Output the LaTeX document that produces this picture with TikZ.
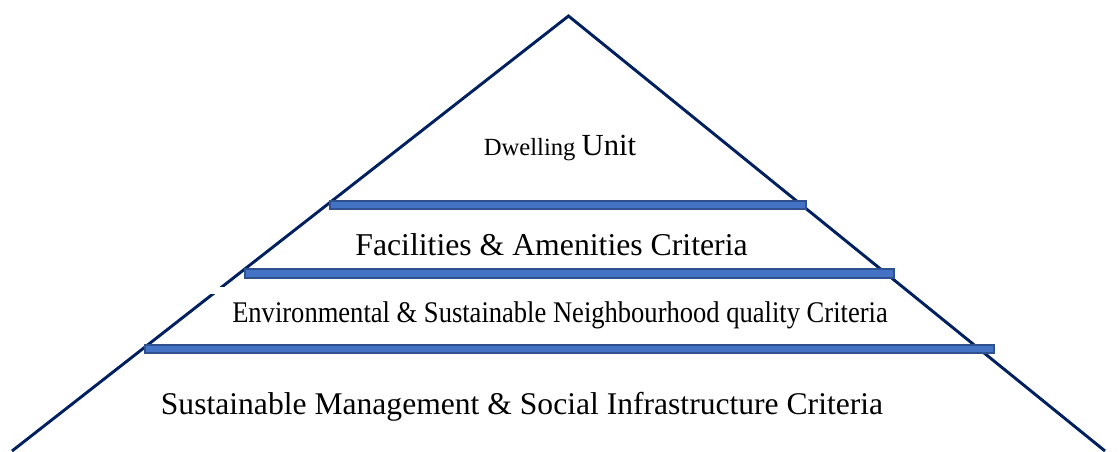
\documentclass[tikz,border=0pt]{standalone}
\usepackage{fontspec}
\setmainfont{Liberation Serif}
\usepackage{tikz}

\definecolor{navy}{RGB}{0,32,96}
\definecolor{barfill}{RGB}{68,114,196}
\definecolor{baredge}{RGB}{47,82,143}

\begin{document}
\begin{tikzpicture}[x=0.75pt,y=-0.75pt,
  side/.style={line width=2.2pt,navy},
  bar/.style={fill=barfill,draw=baredge,line width=0.8pt},
  level/.style={anchor=base,inner sep=0pt}]
\useasboundingbox (0,0) rectangle (1118,451);
\coordinate (top) at (568.5,16);
\coordinate (left) at (12,451);
\coordinate (right) at (1105,451);
\draw[side] (left) -- (top) -- (right);
\fill[white] (205,286.5) rectangle (230,293.5);
\draw[bar] (330,201) rectangle (806,209);
\draw[bar] (245,269) rectangle (894,278);
\draw[bar] (145,345) rectangle (994,353);
\node[level] (unit) at (560,155) {\fontsize{18.5}{20}\selectfont Dwelling \fontsize{23}{26}\selectfont Unit};
\node[level,font=\fontsize{23.8}{26}\selectfont] (facil) at (551.5,255) {Facilities \& Amenities Criteria};
\node[level,font=\fontsize{22.5}{24}\selectfont] (envir) at (560,322) {\scalebox{0.885}[1]{Environmental \& Sustainable Neighbourhood quality Criteria}};
\node[level,font=\fontsize{23.7}{26}\selectfont] (manag) at (522,414) {Sustainable Management \& Social Infrastructure Criteria};
\end{tikzpicture}
\end{document}
